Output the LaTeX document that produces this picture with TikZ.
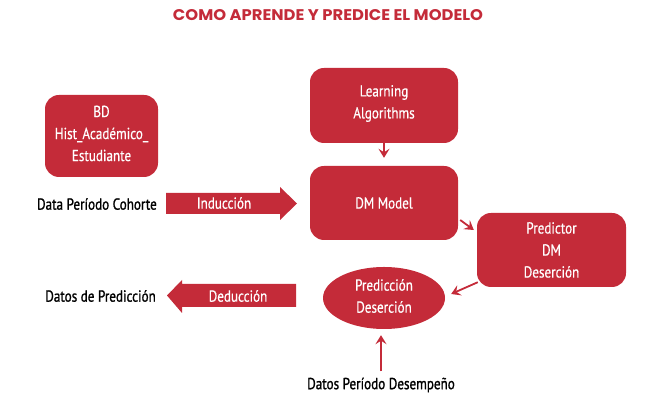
\documentclass[tikz,border=0pt]{standalone}
\usepackage{fontspec}
\usepackage{graphicx}
\usetikzlibrary{shapes.geometric,arrows.meta}
\setmainfont{PT Sans}[FakeStretch=0.82, FakeBold=0.5]
\newfontfamily\boldish{PT Sans}[FakeStretch=0.82, FakeBold=1.2]
\newfontfamily\titlefont{Poppins}
\definecolor{crim}{RGB}{196,43,57}
\tikzset{
  box/.style={fill=crim, rounded corners=14pt, text=white, align=center, inner sep=0pt},
  wtext/.style={text=white, font=\fontsize{16}{22}\selectfont, inner sep=0pt, align=center},
  btext/.style={text=black, font=\boldish\fontsize{16}{22}\selectfont, inner sep=0pt},
  conn/.style={draw=crim, line width=1.8pt, -{Stealth[length=9pt,width=11pt,inset=3.5pt]}}
}
\begin{document}
\begin{tikzpicture}[x=1pt,y=1pt]
\useasboundingbox (0,0) rectangle (659,411);
\node[inner sep=0pt, text=crim] (title) at (328,396) {\resizebox{310pt}{11pt}{\titlefont\bfseries COMO APRENDE Y PREDICE EL MODELO}};
\node[box, minimum width=113pt, minimum height=82pt] (bd) at (101.5,275) {};
\node[wtext] at (101.5,277.5) {BD\\Hist\_Académico\_\\Estudiante};
\node[box, minimum width=148pt, minimum height=75pt] (la) at (384,305.5) {};
\node[wtext] at (384,307.5) {Learning\\Algorithms};
\node[box, minimum width=148pt, minimum height=74pt] (dm) at (384,208) {};
\node[wtext] at (384,208) {DM Model};
\node[box, minimum width=149pt, minimum height=74pt] (pred) at (551.5,161) {};
\node[wtext] at (551.5,161) {Predictor\\DM\\Deserción};
\node[ellipse, fill=crim, minimum width=122pt, minimum height=62pt, inner sep=0pt] (ell) at (384,113) {};
\node[wtext] at (384,115) {Predicción\\Deserción};
% big arrows
\fill[crim] (166,218) -- (280,218) -- (280,224) -- (297,207.5) -- (280,191) -- (280,197) -- (166,197) -- cycle;
\node[wtext] (indt) at (224,208) {Inducción};
\node[btext, anchor=east] (dpc) at (157,207) {Data Período Cohorte};
\fill[crim] (296,127) -- (182,127) -- (182,131) -- (167,115.5) -- (182,98) -- (182,104) -- (296,104) -- cycle;
\node[wtext] (dedt) at (238,115) {Deducción};
\node[btext, anchor=east] (dp) at (156,115) {Datos de Predicción};
\node[btext, inner ysep=2pt] (des) at (381,26) {Datos Período Desempeño};
% connectors
\draw[conn, shorten >=8pt] (la.south) -- (dm.north);
\draw[conn] ([shift={(2,-17)}]dm.east) -- ([shift={(-3,20)}]pred.west);
\draw[conn] ([shift={(1,5)}]pred.south west) -- ([shift={(6,4)}]ell.east);
\draw[conn, shorten >=6pt, shorten <=4pt] (des.north) -- (des.north |- ell.south);
\end{tikzpicture}
\end{document}
